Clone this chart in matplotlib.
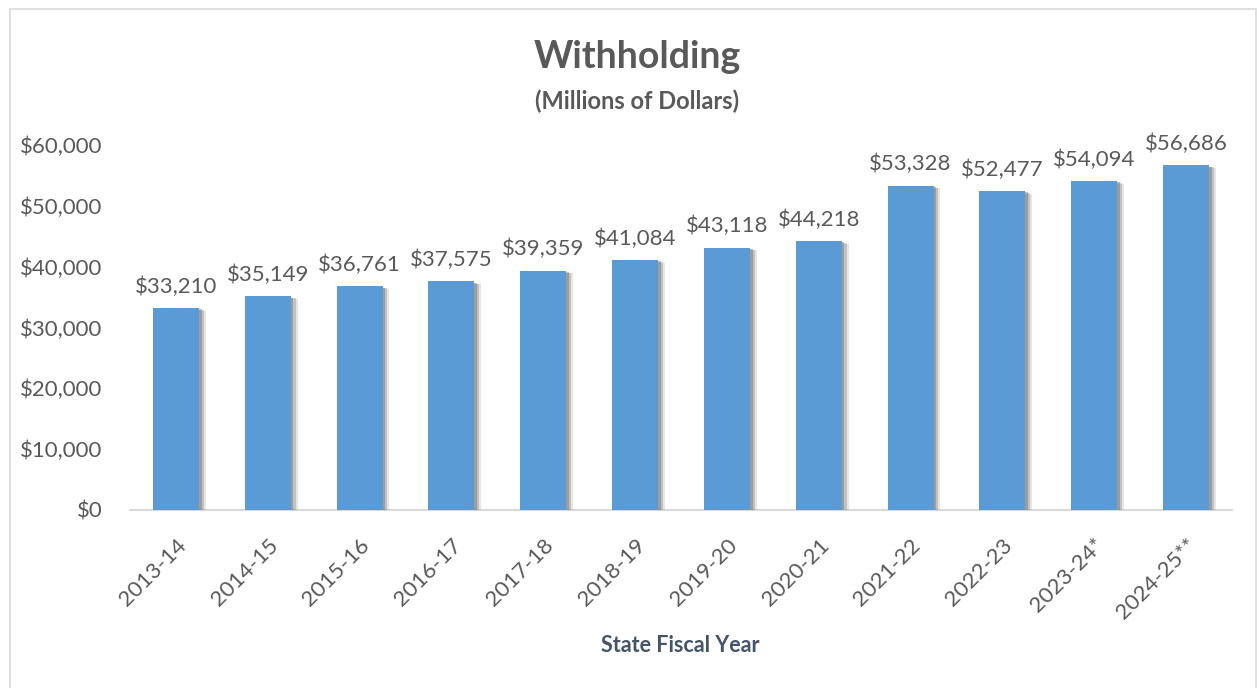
import matplotlib
matplotlib.use("Agg")
import matplotlib.pyplot as plt
import matplotlib.patheffects as pe
from matplotlib.patches import Rectangle
from matplotlib.ticker import FuncFormatter

years = ["2013-14", "2014-15", "2015-16", "2016-17", "2017-18", "2018-19",
         "2019-20", "2020-21", "2021-22", "2022-23", "2023-24*", "2024-25**"]
values = [33210, 35149, 36761, 37575, 39359, 41084, 43118, 44218, 53328, 52477, 54094, 56686]
yticks = [0, 10000, 20000, 30000, 40000, 50000, 60000]

W, H = 1258, 688
fig = plt.figure(figsize=(W / 100, H / 100), dpi=100)
plt.rcParams['font.family'] = ['Lato', 'DejaVu Sans']

# outer chart border
fig.patches.append(Rectangle((10 / W, -0.01), (1256 - 10) / W, 1 - 9 / H + 0.01,
                             transform=fig.transFigure, fill=False,
                             edgecolor='#D9D9D9', linewidth=1.2))

ax = fig.add_axes([130 / W, (H - 510) / H, (1232 - 130) / W, (510 - 145) / (H) * 66000 / 60000])
ax.set_ylim(0, 66000)
ax.set_xlim(-0.5, len(years) - 0.5)

x = list(range(len(years)))
bars = ax.bar(x, values, width=0.5, color='#5B9BD5', zorder=3)
for b in bars:
    b.set_path_effects([
        pe.SimplePatchShadow(offset=(5, -2), shadow_rgbFace='#9a9a9a', alpha=0.25),
        pe.SimplePatchShadow(offset=(3.5, -1.5), shadow_rgbFace='#7f7f7f', alpha=0.35),
        pe.SimplePatchShadow(offset=(2, -1), shadow_rgbFace='#6f6f6f', alpha=0.45),
        pe.Normal()])

for xi, v in zip(x, values):
    ax.annotate(f"${v:,.0f}", (xi, v), xytext=(0, 8), textcoords='offset points',
                ha='center', va='bottom', fontsize=16, color='#595959')

ax.set_yticks(yticks)
ax.yaxis.set_major_formatter(FuncFormatter(lambda v, p: f"${v:,.0f}"))
ax.tick_params(axis='y', length=0, labelsize=16, labelcolor='#595959', pad=20)
ax.set_xticks(x)
ax.set_xticklabels(years, rotation=45, ha='right', rotation_mode='anchor')
ax.tick_params(axis='x', length=0, labelsize=16, labelcolor='#595959', pad=18)

for s in ['top', 'right', 'left']:
    ax.spines[s].set_visible(False)
ax.spines['bottom'].set_color('#D9D9D9')
ax.spines['bottom'].set_linewidth(1.5)

fig.text(637 / W, 1 - 57 / H, "Withholding", ha='center', va='center',
         fontsize=27, fontweight='bold', color='#595959')
fig.text(637 / W, 1 - 101 / H, "(Millions of Dollars)", ha='center', va='center',
         fontsize=17, fontweight='bold', color='#595959')
fig.text(680 / W, 1 - 645 / H, "State Fiscal Year", ha='center', va='center',
         fontsize=15.5, fontweight='bold', color='#44546A')

fig.savefig("out.png", dpi=100)
